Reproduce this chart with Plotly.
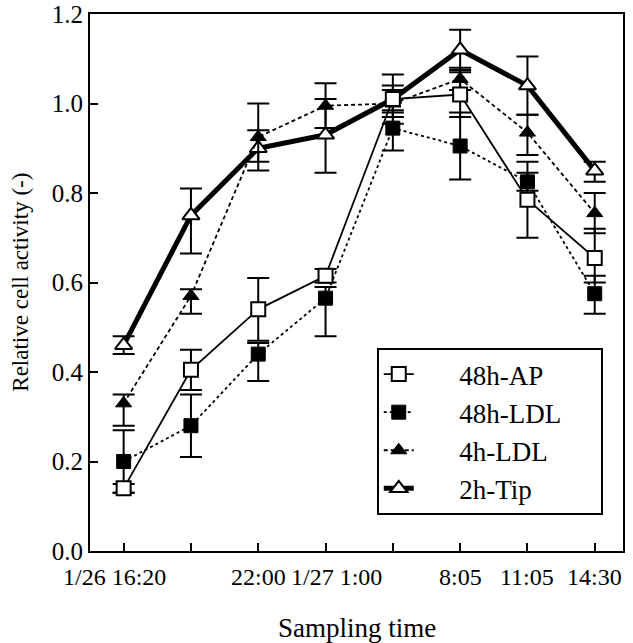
import plotly.graph_objects as go

NB = "\u00a0"
# x categories (sampling times), equally spaced positions
tick_labels = ["1/26 16:20", "", "22:00", "1/27 1:00", "", "8:05", "11:05", "14:30"]
x_pos = [0, 1, 2, 3, 4, 5, 6, 7]
y_ticks = [0, 0.2, 0.4, 0.6, 0.8, 1.0, 1.2]

ap48_val = [0.14, 0.405, 0.54, 0.615, 1.01, 1.02, 0.785, 0.655]
ap48_plus = [0.01, 0.045, 0.07, 0.015, 0.055, 0.05, 0.085, 0.065]
ap48_minus = [0.01, 0.045, 0.07, 0.015, 0.055, 0.05, 0.085, 0.055]

ldl48_val = [0.20, 0.28, 0.44, 0.565, 0.945, 0.905, 0.825, 0.575]
ldl48_plus = [0.07, 0.07, 0.025, 0.025, 0.04, 0.075, 0.02, 0.04]
ldl48_minus = [0.07, 0.07, 0.06, 0.085, 0.05, 0.075, 0.02, 0.045]

ldl4_val = [0.33, 0.57, 0.925, 0.995, 1.00, 1.055, 0.935, 0.755]
ldl4_plus = [0.02, 0.015, 0.075, 0.05, 0.03, 0.025, 0.04, 0.045]
ldl4_minus = [0.05, 0.04, 0.075, 0.05, 0.03, 0.025, 0.05, 0.045]

tip2_val = [0.46, 0.75, 0.90, 0.93, 1.01, 1.12, 1.04, 0.85]
tip2_plus = [0.02, 0.06, 0.04, 0.08, 0.03, 0.045, 0.065, 0.02]
tip2_minus = [0.02, 0.085, 0.03, 0.085, 0.03, 0.045, 0.065, 0.025]

series_names = ["48h-AP", "48h-LDL", "4h-LDL", "2h-Tip"]

FONT = "Liberation Serif, Times New Roman, serif"
LEG_PRE = NB * 6
LEG_POST = NB * 5
# small horizontal nudges of the x tick labels (px), as in the original figure
label_nudge = [-9, 0, 0, 11, 0, 0, 0, 0]


def err(plus, minus):
    return dict(type="data", symmetric=False, array=plus, arrayminus=minus,
                color="black", thickness=2, width=11)


def leg(name):
    return LEG_PRE + name + LEG_POST


fig = go.Figure()

fig.add_trace(go.Scatter(
    x=x_pos, y=tip2_val, name=leg(series_names[3]), mode="lines+markers",
    line=dict(color="black", width=5),
    marker=dict(symbol="triangle-up", size=15, color="white",
                line=dict(color="black", width=2)),
    error_y=err(tip2_plus, tip2_minus), legendrank=4))

fig.add_trace(go.Scatter(
    x=x_pos, y=ldl4_val, name=leg(series_names[2]), mode="lines+markers",
    line=dict(color="black", width=1.8, dash="4px,3px"),
    marker=dict(symbol="triangle-up", size=14, color="black",
                line=dict(color="black", width=1)),
    error_y=err(ldl4_plus, ldl4_minus), legendrank=3))

fig.add_trace(go.Scatter(
    x=x_pos, y=ldl48_val, name=leg(series_names[1]), mode="lines+markers",
    line=dict(color="black", width=1.8, dash="dot"),
    marker=dict(symbol="square", size=14, color="black",
                line=dict(color="black", width=1)),
    error_y=err(ldl48_plus, ldl48_minus), legendrank=2))

fig.add_trace(go.Scatter(
    x=x_pos, y=ap48_val, name=leg(series_names[0]), mode="lines+markers",
    line=dict(color="black", width=1.8),
    marker=dict(symbol="square", size=14, color="white",
                line=dict(color="black", width=2)),
    error_y=err(ap48_plus, ap48_minus), legendrank=1))

# x tick labels as text placed at the tick positions
for xv, lab, dx in zip(x_pos, tick_labels, label_nudge):
    if lab:
        fig.add_annotation(x=xv, y=0, xref="x", yref="paper", text=lab,
                           showarrow=False, yanchor="top", yshift=-11, xshift=dx,
                           font=dict(family=FONT, size=24, color="black"))

# axis titles
fig.add_annotation(x=-0.131, y=0.5, xref="paper", yref="paper",
                   text="Relative cell activity (-)", textangle=-90,
                   showarrow=False, xanchor="center", yanchor="middle",
                   font=dict(family=FONT, size=23, color="black"))
fig.add_annotation(x=0.5, y=-0.143, xref="paper", yref="paper",
                   text="Sampling time", showarrow=False,
                   xanchor="center", yanchor="middle",
                   font=dict(family=FONT, size=27, color="black"))

fig.update_layout(
    width=633, height=643,
    margin=dict(l=90, r=10, t=14, b=92, autoexpand=False),
    paper_bgcolor="white", plot_bgcolor="white",
    font=dict(family=FONT, color="black", size=25),
    showlegend=True,
    legend=dict(
        x=0.538, y=0.378, xanchor="left", yanchor="top",
        bordercolor="black", borderwidth=2, bgcolor="white",
        font=dict(family=FONT, size=27, color="black"),
        tracegroupgap=0, itemsizing="trace",
    ),
    xaxis=dict(
        range=[-0.5, 7.42], tickvals=x_pos, showticklabels=False,
        showgrid=False, zeroline=False, automargin=False,
        showline=True, mirror=True, linecolor="black", linewidth=2,
        ticks="inside", ticklen=8, tickwidth=2, tickcolor="black",
    ),
    yaxis=dict(
        range=[0, 1.2], tickvals=y_ticks,
        tickformat=".1f", showgrid=False, zeroline=False, automargin=False,
        showline=True, mirror=True, linecolor="black", linewidth=2,
        ticks="inside", ticklen=8, tickwidth=2, tickcolor="black",
        tickfont=dict(family=FONT, size=25),
    ),
)

fig.write_html("out.html")
